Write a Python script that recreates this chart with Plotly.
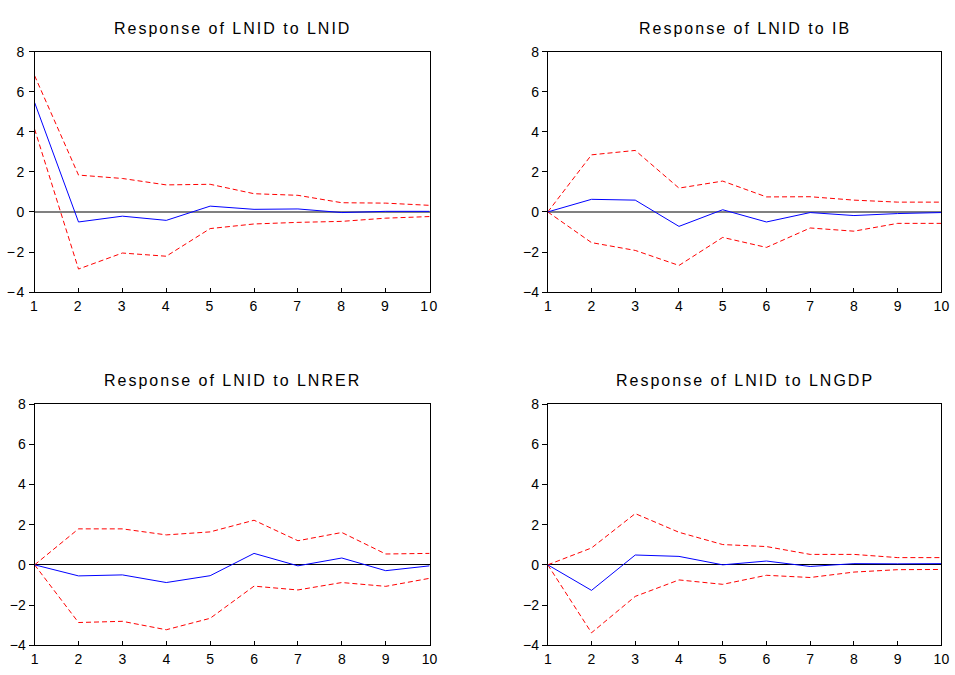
import plotly.graph_objects as go

periods = list(range(1, 11))
titles = ["Response of LNID to LNID", "Response of LNID to IB",
          "Response of LNID to LNRER", "Response of LNID to LNGDP"]

resp_lnid = [5.46, -0.50, -0.21, -0.42, 0.29, 0.13, 0.15, -0.03, 0.03, 0.03]
up_lnid = [6.80, 1.84, 1.67, 1.35, 1.38, 0.91, 0.83, 0.46, 0.44, 0.33]
lo_lnid = [4.13, -2.85, -2.05, -2.21, -0.83, -0.60, -0.52, -0.47, -0.31, -0.23]

resp_ib = [0.0, 0.63, 0.59, -0.72, 0.11, -0.50, -0.03, -0.18, -0.08, -0.03]
up_ib = [0.0, 2.85, 3.07, 1.19, 1.54, 0.75, 0.76, 0.59, 0.49, 0.49]
lo_ib = [0.0, -1.53, -1.92, -2.67, -1.27, -1.77, -0.80, -0.96, -0.57, -0.57]

resp_lnrer = [0.0, -0.55, -0.50, -0.88, -0.54, 0.57, -0.05, 0.34, -0.29, -0.05]
up_lnrer = [0.0, 1.79, 1.79, 1.49, 1.64, 2.22, 1.20, 1.61, 0.54, 0.57]
lo_lnrer = [0.0, -2.87, -2.81, -3.23, -2.66, -1.06, -1.25, -0.88, -1.07, -0.67]

resp_lngdp = [0.0, -1.27, 0.49, 0.42, 0.0, 0.19, -0.08, 0.06, 0.05, 0.06]
up_lngdp = [0.0, 0.84, 2.55, 1.62, 1.01, 0.91, 0.52, 0.52, 0.36, 0.36]
lo_lngdp = [0.0, -3.38, -1.57, -0.75, -0.97, -0.52, -0.63, -0.36, -0.24, -0.23]

panels = [(resp_lnid, up_lnid, lo_lnid), (resp_ib, up_ib, lo_ib),
          (resp_lnrer, up_lnrer, lo_lnrer), (resp_lngdp, up_lngdp, lo_lngdp)]

W, H = 955, 675
# pixel boxes: (left, right, top, bottom)
boxes = [(31, 431, 44.7, 291), (550.7, 949.3, 44.7, 291),
         (31, 431, 405.7, 652.7), (550.7, 949.3, 405.7, 652.7)]
title_y = [21, 21, 382, 382]

fig = go.Figure()
family = "Liberation Sans, Arial, sans-serif"
font = dict(family=family, size=14, color="black")
layout = dict(width=W, height=H, margin=dict(l=0, r=0, t=0, b=0),
              paper_bgcolor="white", plot_bgcolor="white", showlegend=False,
              font=font, annotations=[])

for i, (resp, up, lo) in enumerate(panels):
    n = i + 1
    xa = "x" if n == 1 else f"x{n}"
    ya = "y" if n == 1 else f"y{n}"
    for series, color, dash in [(up, "#FF0000", "5px,3px"), (lo, "#FF0000", "5px,3px"),
                                (resp, "#0000FF", "solid")]:
        fig.add_trace(go.Scatter(x=periods, y=series, mode="lines", xaxis=xa, yaxis=ya,
                                 line=dict(color=color, width=1, dash=dash),
                                 hoverinfo="skip"))
    l, r, t, b = boxes[i]
    top_row = i < 2
    layout["xaxis" if n == 1 else f"xaxis{n}"] = dict(
        domain=[l / W, r / W], anchor=ya, range=[1, 10], tickvals=periods,
        showline=True, mirror=True, linecolor="black", linewidth=1,
        ticks="inside", ticklen=4, tickcolor="black", showgrid=False, zeroline=False,
        tickfont=font, ticklabelstandoff=1)
    layout["yaxis" if n == 1 else f"yaxis{n}"] = dict(
        domain=[(H - b) / H, (H - t) / H], anchor=xa, range=[-4, 8], dtick=2,
        tick0=-4, showline=True, mirror=True, linecolor="black", linewidth=1,
        ticks="outside", ticklen=5, tickcolor="black", showgrid=False,
        zeroline=True, zerolinecolor="#808080" if top_row else "black",
        zerolinewidth=2 if top_row else 1, tickfont=font)
    layout["annotations"].append(dict(
        text=titles[i], x=(l + r) / 2 / W, y=(H - title_y[i]) / H,
        xref="paper", yref="paper", showarrow=False, xanchor="center", yanchor="middle",
        font=dict(family=family, size=16, color="black")))

fig.update_layout(**layout)

post = """
document.body.style.margin='0';
document.body.style.overflow='hidden';
var gd=document.getElementById('{plot_id}');
function sp(){
  gd.querySelectorAll('.xtick text, .ytick text').forEach(function(e){e.style.letterSpacing='1.5px';});
  gd.querySelectorAll('.annotation-text').forEach(function(e){e.style.letterSpacing='2px';});
}
sp();
if(gd.on){gd.on('plotly_afterplot', sp);}
"""
fig.write_html("out.html", config={"displayModeBar": False, "staticPlot": True},
               post_script=post)
